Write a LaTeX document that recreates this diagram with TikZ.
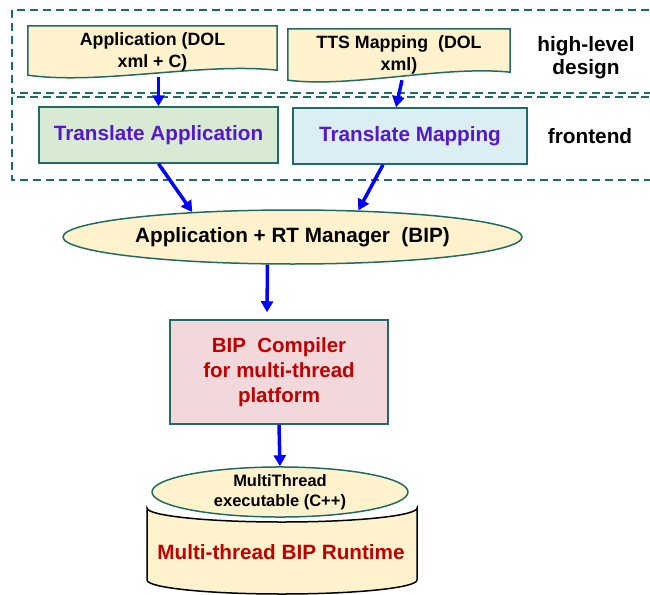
\documentclass[tikz,border=0pt]{standalone}
\usepackage{fontspec}
\setmainfont{Liberation Sans}
\usepackage{tikz}
\usetikzlibrary{arrows.meta,shapes,positioning,calc}
\usepackage{xcolor}
\definecolor{bpteal}{RGB}{32,108,100}
\definecolor{bpblue}{RGB}{0,0,255}
\definecolor{bpyellow}{RGB}{255,242,204}
\definecolor{bpgreen}{RGB}{216,234,212}
\definecolor{bplightblue}{RGB}{219,238,243}
\definecolor{bppink}{RGB}{242,216,218}
\definecolor{bppurple}{RGB}{85,24,204}
\definecolor{bpred}{RGB}{192,0,0}
\pgfdeclarelayer{background}
\pgfsetlayers{background,main}
\tikzstyle{arrow} = [line width=3.5pt,-{Triangle[width=12pt,length=11pt]},color=bpblue]
\tikzstyle{layerbox} = [draw=bpteal, line width=1.8pt, dash pattern=on 8pt off 5pt]
\tikzstyle{docline} = [draw=bpteal, fill=bpyellow, line width=1.5pt]
\tikzstyle{docbox} = [rectangle, minimum height=51pt, align=center, font=\fontsize{17.8}{22}\selectfont\bfseries]
\tikzstyle{stepbox} = [rectangle, draw=bpteal, line width=1.5pt, minimum height=56pt, text=bppurple, font=\fontsize{20.7}{25}\selectfont\bfseries]
\tikzstyle{tagtext} = [align=center, font=\fontsize{20.8}{23}\selectfont\bfseries]

\begin{document}
\begin{tikzpicture}[x=1pt, y=-1pt]
\clip (0,0) rectangle (650,594);

% Layers
\draw[layerbox] (12,10) rectangle (670,93);
\draw[layerbox] (12,97) rectangle (670,180);

% High-level design
\node (appdoc) [docbox, minimum width=249pt] at (152.5,51.5) {Application (DOL\\xml + C)};
\node (mapdoc) [docbox, minimum width=222pt] at (399,54.5) {TTS Mapping~~(DOL\\xml)};
\node (hld) [tagtext] at (586,58) {high-level\\design};

\begin{pgfonlayer}{background}
\draw[docline] (appdoc.north west) -- (appdoc.north east) -- ([yshift=7pt]appdoc.south east)
  .. controls ($(appdoc.south)+(50,-15)$) and ($(appdoc.south)+(-52,8)$) .. ([yshift=2pt]appdoc.south west) -- cycle;
\draw[docline] (mapdoc.north west) -- (mapdoc.north east) -- ([yshift=8pt]mapdoc.south east)
  .. controls ($(mapdoc.south)+(45,-15)$) and ($(mapdoc.south)+(-48,8)$) .. ([yshift=0pt]mapdoc.south west) -- cycle;
\end{pgfonlayer}

% Frontend
\node (transapp) [stepbox, fill=bpgreen, minimum width=239pt] at (158.5,135) {Translate Application};
\node (transmap) [stepbox, fill=bplightblue, minimum width=234pt] at (410,136) {Translate Mapping};
\node (fe) [tagtext] at (590,136) {frontend};

% BIP flow
\node (rtmgr) [ellipse, draw=bpteal, fill=bpyellow, line width=1.5pt, minimum width=459pt, minimum height=54pt, font=\fontsize{20.7}{25}\selectfont\bfseries] at (292.5,237) {Application + RT Manager~~(BIP)};
\node (compiler) [rectangle, draw=bpteal, fill=bppink, line width=1.5pt, minimum width=218pt, minimum height=104pt, align=center, text=bpred, font=\fontsize{20.5}{25}\selectfont\bfseries] at (279,372) {BIP~~Compiler\\for multi-thread\\platform};

% Runtime
\begin{pgfonlayer}{background}
\draw[draw=black, fill=bpyellow, line width=1.5pt] (147,508) -- (147,580)
  arc[start angle=180, end angle=0, x radius=135, y radius=14] -- (417,508)
  arc[start angle=0, end angle=180, x radius=135, y radius=14] -- cycle;
\end{pgfonlayer}
\node (exe) [ellipse, draw=bpteal, fill=bpyellow, line width=1.5pt, inner sep=0pt, minimum width=256pt, minimum height=50pt, align=center, font=\fontsize{16.5}{20}\selectfont\bfseries] at (280,492) {MultiThread\\executable (C++)};
\node (runtime) [text=bpred, font=\fontsize{20.7}{25}\selectfont\bfseries] at (281,552) {Multi-thread BIP Runtime};

\draw[arrow] (appdoc.south -| transapp.north) -- (transapp.north);
\draw[arrow] ([xshift=3pt]mapdoc.south) -- ([xshift=-14pt]transmap.north);
\draw[arrow] (transapp.south) -- (rtmgr.166);
\draw[arrow] ([xshift=-27pt]transmap.south) -- (rtmgr.22);
\draw[arrow] ([xshift=-25pt]rtmgr.south) -- ([xshift=-12pt,yshift=7pt]compiler.north);
\draw[arrow] (compiler.south) -- (exe.north);
\end{tikzpicture}
\end{document}
